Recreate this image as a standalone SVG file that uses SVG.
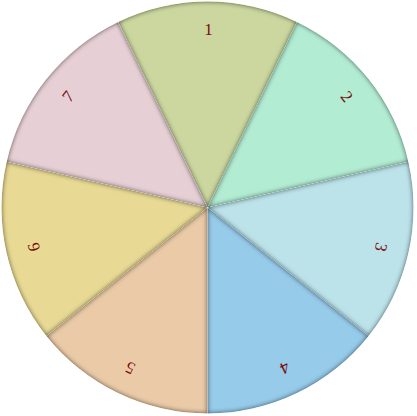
<svg xmlns="http://www.w3.org/2000/svg" width="417" height="416" viewBox="0 0 417 416">
  <defs>
    <filter id="bevel" x="-5%" y="-5%" width="110%" height="110%" color-interpolation-filters="sRGB">
      <feGaussianBlur in="SourceAlpha" stdDeviation="2.8" result="blur"/>
      <feComposite in="SourceAlpha" in2="blur" operator="out" result="edge"/>
      <feComponentTransfer in="SourceGraphic" result="dark">
        <feFuncR type="linear" slope="0.45"/>
        <feFuncG type="linear" slope="0.45"/>
        <feFuncB type="linear" slope="0.45"/>
      </feComponentTransfer>
      <feComposite in="dark" in2="edge" operator="in" result="shadow"/>
      <feComponentTransfer in="shadow" result="shadow2">
        <feFuncA type="linear" slope="1.1"/>
      </feComponentTransfer>
      <feMerge><feMergeNode in="SourceGraphic"/><feMergeNode in="shadow2"/></feMerge>
    </filter>
    <style>
      .slice { filter: url(#bevel); stroke: none; }
      .lbl { font-family: "Liberation Serif", "Times New Roman", serif; font-size: 17px; fill: #7a0c0c; text-anchor: middle; dominant-baseline: central; }
    </style>
  </defs>
  <g id="connectors"></g>
  <g id="slice1">
    <path class="slice" fill="#cbd79f" d="M207.5,207.5 L118.12,21.9 A206,206 0 0 1 296.88,21.9 Z"/>
    <text class="lbl" transform="translate(208.5,29.5)">1</text>
  </g>
  <g id="slice2">
    <path class="slice" fill="#b2ecd3" d="M207.5,207.5 L296.88,21.9 A206,206 0 0 1 408.34,161.66 Z"/>
    <text class="lbl" transform="translate(346.67,96.52) rotate(51.43)">2</text>
  </g>
  <g id="slice3">
    <path class="slice" fill="#bce3ea" d="M207.5,207.5 L408.34,161.66 A206,206 0 0 1 368.56,335.94 Z"/>
    <text class="lbl" transform="translate(381.04,247.11) rotate(102.86)">3</text>
  </g>
  <g id="slice4">
    <path class="slice" fill="#96cbea" d="M207.5,207.5 L368.56,335.94 A206,206 0 0 1 207.5,413.5 Z"/>
    <text class="lbl" transform="translate(284.73,367.87) rotate(154.29)">4</text>
  </g>
  <g id="slice5">
    <path class="slice" fill="#eacaa7" d="M207.5,207.5 L207.5,413.5 A206,206 0 0 1 46.44,335.94 Z"/>
    <text class="lbl" transform="translate(130.27,367.87) rotate(205.71)">5</text>
  </g>
  <g id="slice6">
    <path class="slice" fill="#e8da94" d="M207.5,207.5 L46.44,335.94 A206,206 0 0 1 6.66,161.66 Z"/>
    <text class="lbl" transform="translate(33.96,247.11) rotate(257.14)">6</text>
  </g>
  <g id="slice7">
    <path class="slice" fill="#e7d0d5" d="M207.5,207.5 L6.66,161.66 A206,206 0 0 1 118.12,21.9 Z"/>
    <text class="lbl" transform="translate(68.33,96.52) rotate(308.57)">7</text>
  </g>
</svg>
